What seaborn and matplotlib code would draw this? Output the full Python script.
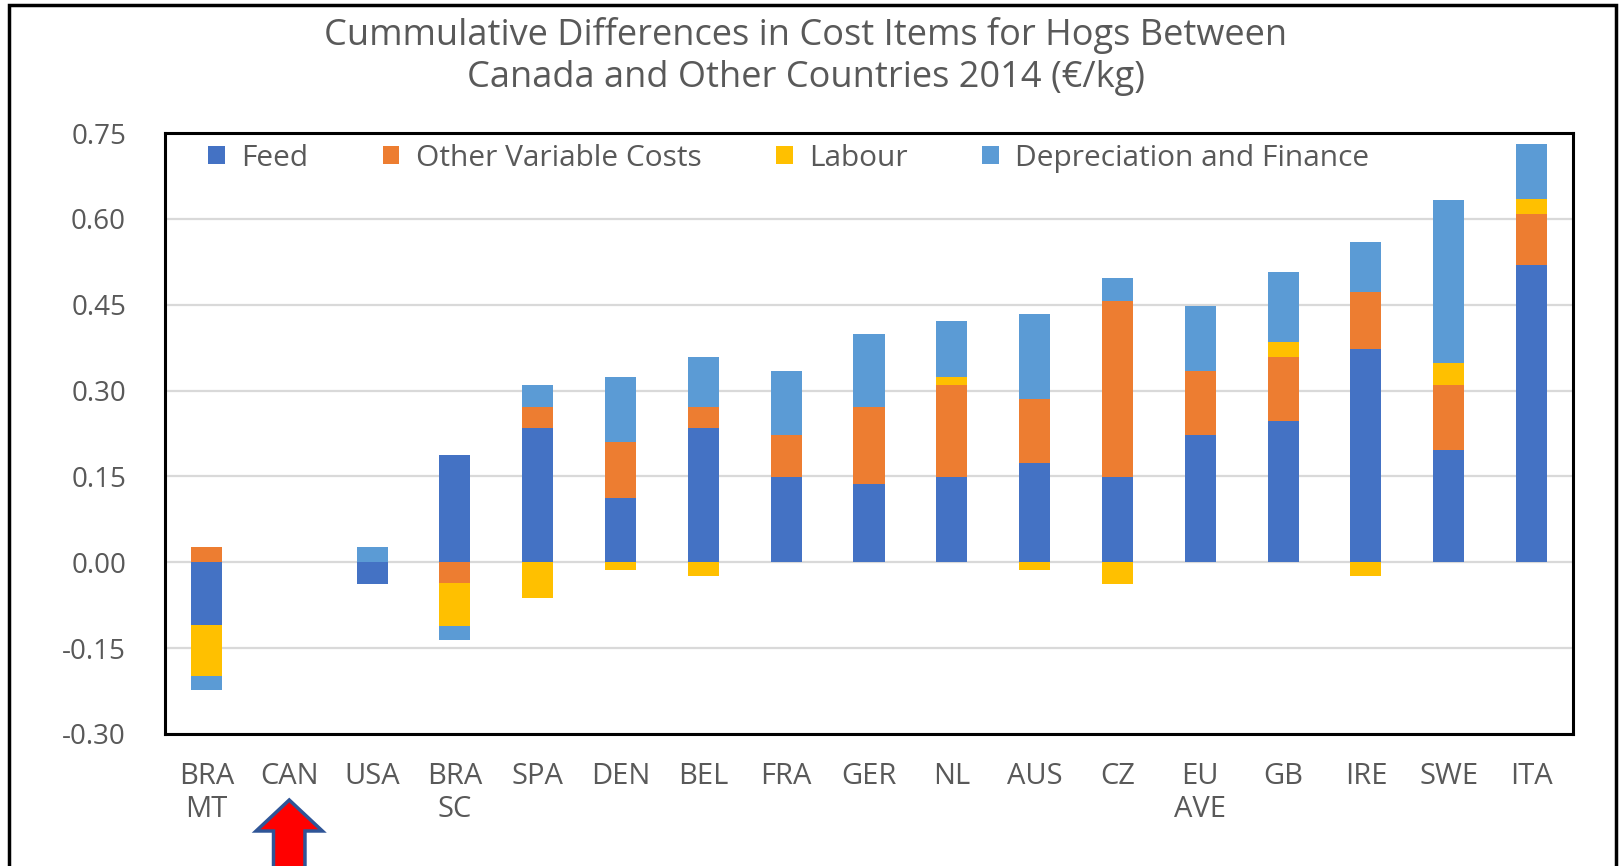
import matplotlib
matplotlib.use("Agg")
import matplotlib.pyplot as plt
from matplotlib.patches import Polygon, Rectangle
from matplotlib.transforms import blended_transform_factory
import seaborn as sns
import numpy as np
import pandas as pd

# ---------------- data ----------------
categories = ["BRA\nMT", "CAN", "USA", "BRA\nSC", "SPA", "DEN", "BEL", "FRA", "GER",
              "NL", "AUS", "CZ", "EU\nAVE", "GB", "IRE", "SWE", "ITA"]
feed = [-0.110, 0.0, -0.038, 0.187, 0.235, 0.112, 0.235, 0.149, 0.137,
        0.149, 0.173, 0.149, 0.222, 0.247, 0.372, 0.197, 0.520]
other_var = [0.026, 0.0, 0.0, -0.037, 0.037, 0.099, 0.037, 0.074, 0.135,
             0.160, 0.113, 0.308, 0.112, 0.112, 0.100, 0.112, 0.088]
labour = [-0.089, 0.0, 0.0, -0.075, -0.063, -0.014, -0.024, 0.0, 0.0,
          0.014, -0.014, -0.038, 0.0, 0.026, -0.024, 0.040, 0.026]
dep_fin = [-0.025, 0.0, 0.026, -0.024, 0.037, 0.112, 0.087, 0.111, 0.126,
           0.098, 0.147, 0.039, 0.113, 0.122, 0.087, 0.284, 0.097]
series_names = ["Feed", "Other Variable Costs", "Labour", "Depreciation and Finance"]
series_values = [feed, other_var, labour, dep_fin]
series_colors = ["#4472C4", "#ED7D31", "#FFC000", "#5B9BD5"]
y_ticks = [-0.30, -0.15, 0.00, 0.15, 0.30, 0.45, 0.60, 0.75]
title_lines = ["Cummulative Differences in Cost Items for Hogs Between",
               "Canada and Other Countries 2014 (\u20ac/kg)"]

TXT = "#595959"
FONT = "Open Sans"

sns.set_theme(style="white")
plt.rcParams["font.family"] = [FONT, "DejaVu Sans"]

W, H = 1623, 866
fig = plt.figure(figsize=(W / 100, H / 100), dpi=100)
ax = fig.add_axes([165 / W, 1 - 734 / H, (1573 - 165) / W, (734 - 133) / H])

pos_base = np.zeros(len(categories))
neg_base = np.zeros(len(categories))
for name, vals, col in zip(series_names, series_values, series_colors):
    v = np.array(vals, dtype=float)
    bottom = np.where(v >= 0, pos_base, neg_base)
    df = pd.DataFrame({"cat": categories, "val": v})
    sns.barplot(data=df, x="cat", y="val", order=categories, color=col,
                width=0.375, errorbar=None, bottom=bottom, ax=ax,
                saturation=1, label=name, linewidth=0, zorder=3)
    pos_base = pos_base + np.where(v > 0, v, 0)
    neg_base = neg_base + np.where(v < 0, v, 0)

ax.set_ylim(-0.30, 0.75)
ax.set_xlim(-0.5, len(categories) - 0.5)
ax.set_yticks(y_ticks)
ax.set_yticklabels([f"{t:.2f}" for t in y_ticks])
ax.set_xlabel("")
ax.set_ylabel("")
ax.yaxis.grid(True, color="#D9D9D9", linewidth=1.6, zorder=0)
ax.xaxis.grid(False)
ax.set_axisbelow(True)
ax.tick_params(axis="y", length=0, pad=28, labelsize=20, labelcolor=TXT)
ax.tick_params(axis="x", length=0, pad=20, labelsize=21, labelcolor=TXT)
for s in ax.spines.values():
    s.set_visible(True)
    s.set_color("black")
    s.set_linewidth(2.2)

leg = ax.legend(loc="upper left", bbox_to_anchor=(0.018, 1.012), ncol=4,
                frameon=False, fontsize=21.5, handlelength=0.55, handleheight=0.55,
                handletextpad=0.55, columnspacing=2.5, labelcolor=TXT,
                borderaxespad=0.2)

for i, line in enumerate(title_lines):
    fig.text(806 / W, 1 - (45 + 42 * i) / H, line, ha="center", va="baseline",
             fontsize=26, color=TXT)

# outer frame
fig.add_artist(Rectangle((9 / W, -0.05), (1616 - 9) / W, 1.05 - 5 / H,
                         transform=fig.transFigure, fill=False,
                         edgecolor="black", linewidth=2.5, clip_on=False))

# red arrow pointing at CAN
tr = blended_transform_factory(ax.transData, fig.transFigure)
cx = categories.index("CAN")
sw, hw = 0.19, 0.40
tip, base, bot = 1 - 800 / H, 1 - 831 / H, -0.02
verts = [(cx, tip), (cx + hw, base), (cx + sw, base), (cx + sw, bot),
         (cx - sw, bot), (cx - sw, base), (cx - hw, base)]
fig.add_artist(Polygon(verts, closed=True, transform=tr, facecolor="#FF0000",
                       edgecolor="#2F5597", linewidth=2.5, clip_on=False))

fig.savefig("out.png", dpi=100)
